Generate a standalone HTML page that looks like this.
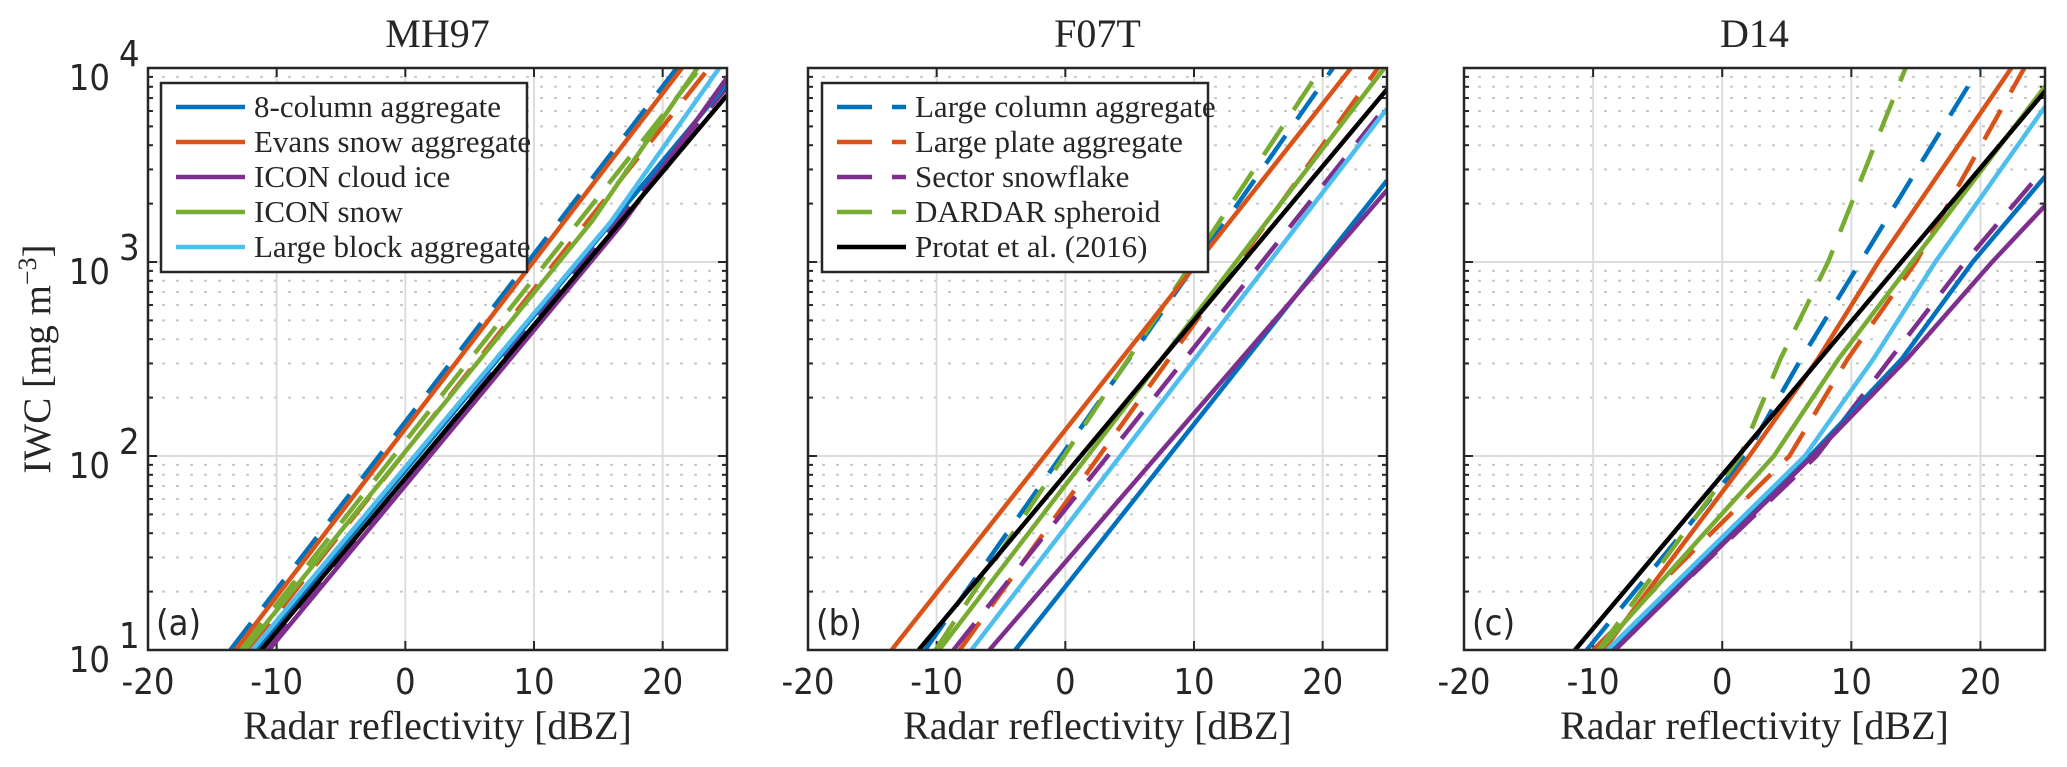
<!DOCTYPE html>
<html><head><meta charset="utf-8">
<style>
html,body{margin:0;padding:0;background:#fff;}
svg{display:block;}
.tick{font-family:"DejaVu Sans Condensed","DejaVu Sans","Liberation Sans",sans-serif;font-size:36px;fill:#262626;}
.serif{font-family:"Liberation Serif",serif;fill:#262626;}
</style></head>
<body>
<svg id="chart" width="2067" height="767" viewBox="0 0 2067 767" xmlns="http://www.w3.org/2000/svg">
<text class="serif" transform="translate(50,359) rotate(-90)" text-anchor="middle" font-size="39">IWC [mg m<tspan dy="-14" font-size="26">−3</tspan><tspan dy="14">]</tspan></text>
</svg>
<script>
// ---------- data ----------
const xTicks = [-20, -10, 0, 10, 20];
const xTickLabels = ["-20", "-10", "0", "10", "20"];
const yDecades = [1, 2, 3, 4];
const panelTitles = ["MH97", "F07T", "D14"];
const panelLetters = ["(a)", "(b)", "(c)"];

// Panel (a) MH97
const a_col8_dbz = [-11.6, 25];          const a_col8_iwc = [10, 8318];
const a_evans_dbz = [-13.2, 21.5];       const a_evans_iwc = [10, 10000];
const a_iconIce_dbz = [-10.6, 16.9, 25]; const a_iconIce_iwc = [10, 1585, 8913];
const a_iconSnow_dbz = [-12.5, 14.5, 22.7]; const a_iconSnow_iwc = [10, 1622, 10000];
const a_block_dbz = [-11.9, 16.0, 24.4]; const a_block_iwc = [10, 1622, 10000];
const a_column_dbz = [-13.6, 21.1];      const a_column_iwc = [10, 10000];
const a_plate_dbz = [-12.2, 23.6];       const a_plate_iwc = [10, 10000];
const a_sector_dbz = [-10.9, 25];        const a_sector_iwc = [10, 7943];
const a_dardar_dbz = [-12.8, 22.9];      const a_dardar_iwc = [10, 10000];
const a_protat_dbz = [-11.2, 25];        const a_protat_iwc = [10, 7244];

// Panel (b) F07T
const b_col8_dbz = [-3.9, 25];      const b_col8_iwc = [10, 2630];
const b_evans_dbz = [-13.5, 22.2];  const b_evans_iwc = [10, 10000];
const b_iconIce_dbz = [-5.9, 25];   const b_iconIce_iwc = [10, 2344];
const b_iconSnow_dbz = [-9.8, 24.8];const b_iconSnow_iwc = [10, 10000];
const b_block_dbz = [-7.3, 25];     const b_block_iwc = [10, 6166];
const b_column_dbz = [-10.9, 20.8]; const b_column_iwc = [10, 10000];
const b_plate_dbz = [-8.2, 24.3];   const b_plate_iwc = [10, 10000];
const b_sector_dbz = [-8.7, 25];    const b_sector_iwc = [10, 6457];
const b_dardar_dbz = [-10.1, 19.9]; const b_dardar_iwc = [10, 10000];
const b_protat_dbz = [-11.4, 25];   const b_protat_iwc = [10, 7762];

// Panel (c) D14  (IWC knots at 10, 100, 316, 1000, top)
const c_col8_dbz = [-8.7, 6.8, 13.9, 19.4, 25];    const c_col8_iwc = [10, 100, 316, 1000, 2754];
const c_evans_dbz = [-9.2, 2.1, 7.4, 12.1, 22.4];  const c_evans_iwc = [10, 100, 316, 1000, 10000];
const c_iconIce_dbz = [-8.3, 7.0, 14.3, 20.9, 25]; const c_iconIce_iwc = [10, 100, 316, 1000, 1950];
const c_iconSnow_dbz = [-9.5, 4.0, 9.0, 14.7, 25]; const c_iconSnow_iwc = [10, 100, 316, 1000, 8035];
const c_block_dbz = [-8.9, 6.4, 11.7, 16.5, 25];   const c_block_iwc = [10, 100, 316, 1000, 6310];
const c_column_dbz = [-10.5, 1.8, 6.1, 10.7, 19.9]; const c_column_iwc = [10, 100, 316, 1000, 10000];
const c_plate_dbz = [-10.0, 5.2, 9.7, 15.0, 23.4];  const c_plate_iwc = [10, 100, 316, 1000, 10000];
const c_sector_dbz = [-8.4, 7.3, 13.0, 18.8, 25];   const c_sector_iwc = [10, 100, 316, 1000, 3055];
const c_dardar_dbz = [-9.6, 1.4, 4.5, 8.2, 14.2];   const c_dardar_iwc = [10, 100, 316, 1000, 10000];
const c_protat_dbz = [-11.4, 25];                   const c_protat_iwc = [10, 7586];

const legendA = ["8-column aggregate", "Evans snow aggregate", "ICON cloud ice", "ICON snow", "Large block aggregate"];
const legendB = ["Large column aggregate", "Large plate aggregate", "Sector snowflake", "DARDAR spheroid", "Protat et al. (2016)"];

// ---------- drawing ----------
const NS = "http://www.w3.org/2000/svg";
const svg = document.getElementById("chart");
const C = {blue:"#0072BD", orange:"#D95319", purple:"#7E2F8E", green:"#77AC30", cyan:"#4DBEEE", black:"#000000"};
const panels = [
  {x0:148, x1:727, id:"a", series:[
    ["column-aggregate", a_column_dbz, a_column_iwc, C.blue, true],
    ["plate-aggregate", a_plate_dbz, a_plate_iwc, C.orange, true],
    ["sector-snowflake", a_sector_dbz, a_sector_iwc, C.purple, true],
    ["dardar-spheroid", a_dardar_dbz, a_dardar_iwc, C.green, true],
    ["8-column-aggregate", a_col8_dbz, a_col8_iwc, C.blue, false],
    ["evans-snow", a_evans_dbz, a_evans_iwc, C.orange, false],
    ["icon-snow", a_iconSnow_dbz, a_iconSnow_iwc, C.green, false],
    ["large-block", a_block_dbz, a_block_iwc, C.cyan, false],
    ["icon-cloud-ice", a_iconIce_dbz, a_iconIce_iwc, C.purple, false],
    ["protat-2016", a_protat_dbz, a_protat_iwc, C.black, false]]},
  {x0:808, x1:1387, id:"b", series:[
    ["column-aggregate", b_column_dbz, b_column_iwc, C.blue, true],
    ["plate-aggregate", b_plate_dbz, b_plate_iwc, C.orange, true],
    ["sector-snowflake", b_sector_dbz, b_sector_iwc, C.purple, true],
    ["dardar-spheroid", b_dardar_dbz, b_dardar_iwc, C.green, true],
    ["8-column-aggregate", b_col8_dbz, b_col8_iwc, C.blue, false],
    ["evans-snow", b_evans_dbz, b_evans_iwc, C.orange, false],
    ["icon-snow", b_iconSnow_dbz, b_iconSnow_iwc, C.green, false],
    ["large-block", b_block_dbz, b_block_iwc, C.cyan, false],
    ["icon-cloud-ice", b_iconIce_dbz, b_iconIce_iwc, C.purple, false],
    ["protat-2016", b_protat_dbz, b_protat_iwc, C.black, false]]},
  {x0:1464, x1:2045, id:"c", series:[
    ["column-aggregate", c_column_dbz, c_column_iwc, C.blue, true],
    ["plate-aggregate", c_plate_dbz, c_plate_iwc, C.orange, true],
    ["sector-snowflake", c_sector_dbz, c_sector_iwc, C.purple, true],
    ["dardar-spheroid", c_dardar_dbz, c_dardar_iwc, C.green, true],
    ["8-column-aggregate", c_col8_dbz, c_col8_iwc, C.blue, false],
    ["evans-snow", c_evans_dbz, c_evans_iwc, C.orange, false],
    ["icon-snow", c_iconSnow_dbz, c_iconSnow_iwc, C.green, false],
    ["large-block", c_block_dbz, c_block_iwc, C.cyan, false],
    ["icon-cloud-ice", c_iconIce_dbz, c_iconIce_iwc, C.purple, false],
    ["protat-2016", c_protat_dbz, c_protat_iwc, C.black, false]]}
];
const Y0 = 650, Y1 = 68;
const yScale = v => Y0 - (Math.log10(v) - 1) / 3 * (Y0 - Y1);

function mk(tag, attrs, parent) {
  const e = document.createElementNS(NS, tag);
  for (const k in attrs) e.setAttribute(k, attrs[k]);
  (parent || svg).appendChild(e);
  return e;
}

panels.forEach((p, pi) => {
  const xScale = d => p.x0 + (d + 20) / 45 * (p.x1 - p.x0);
  const g = mk("g", {});
  
  
  const cp = mk("clipPath", {id: "clip" + p.id}, g);
  mk("rect", {x: p.x0, y: Y1, width: p.x1 - p.x0, height: Y0 - Y1}, cp);
  for (let dec = 1; dec < 4; dec++) {
    for (let m = 2; m <= 9; m++) {
      const y = yScale(m * Math.pow(10, dec));
      const l = mk("line", {x1: p.x0, x2: p.x1, y1: y, y2: y, stroke: "#c8c8c8", "stroke-width": 2, "stroke-dasharray": "3 11"}, g);
      
      
      mk("line", {x1: p.x0, x2: p.x0 + 5, y1: y, y2: y, stroke: "#262626", "stroke-width": 2}, g);
      mk("line", {x1: p.x1, x2: p.x1 - 5, y1: y, y2: y, stroke: "#262626", "stroke-width": 2}, g);
    }
  }
  xTicks.forEach((t, i) => {
    const x = xScale(t);
    const l = mk("line", {x1: x, x2: x, y1: Y1, y2: Y0, stroke: "#dcdcdc", "stroke-width": 2}, g);
    
    
    mk("line", {x1: x, x2: x, y1: Y0, y2: Y0 - 9, stroke: "#262626", "stroke-width": 2}, g);
    mk("line", {x1: x, x2: x, y1: Y1, y2: Y1 + 9, stroke: "#262626", "stroke-width": 2}, g);
    const tx = mk("text", {x: x, y: 694, "text-anchor": "middle", class: "tick"}, g);
    tx.textContent = xTickLabels[i];
    
    
  });
  yDecades.forEach(d => {
    const y = yScale(Math.pow(10, d));
    const l = mk("line", {x1: p.x0, x2: p.x1, y1: y, y2: y, stroke: "#dcdcdc", "stroke-width": 2}, g);
    
    
    mk("line", {x1: p.x0, x2: p.x0 + 9, y1: y, y2: y, stroke: "#262626", "stroke-width": 2}, g);
    mk("line", {x1: p.x1, x2: p.x1 - 9, y1: y, y2: y, stroke: "#262626", "stroke-width": 2}, g);
    if (pi === 0) {
      const tx = mk("text", {x: 110, y: y + 22, "text-anchor": "end", class: "tick"}, g);
      tx.textContent = "10";
      
      
      const sp = mk("text", {x: 119, y: y - 2, class: "tick", "font-size": "27"}, g);
      sp.textContent = String(d);
      
      
    }
  });
  const sg = mk("g", {"clip-path": "url(#clip" + p.id + ")"}, g);
  p.series.forEach(s => {
    const [name, xs, ys, col, dashed] = s;
    const pts = xs.map((d, i) => xScale(d).toFixed(1) + "," + yScale(ys[i]).toFixed(1)).join(" ");
    const pl = mk("polyline", {points: pts, fill: "none", stroke: col, "stroke-width": 4.5, "stroke-linejoin": "round"}, sg);
    if (dashed) pl.setAttribute("stroke-dasharray", "34 20");
    
    
  });
  const box = mk("rect", {x: p.x0, y: Y1, width: p.x1 - p.x0, height: Y0 - Y1, fill: "none", stroke: "#262626", "stroke-width": 2.5}, g);
  
  
  const cx = (p.x0 + p.x1) / 2;
  const t = mk("text", {x: cx, y: 47, "text-anchor": "middle", class: "serif", "font-size": "40"}, g);
  t.textContent = panelTitles[pi];
  
  
  const xl = mk("text", {x: cx, y: 739, "text-anchor": "middle", class: "serif", "font-size": "40"}, g);
  xl.textContent = "Radar reflectivity [dBZ]";
  
  
  const lt = mk("text", {x: p.x0 + 8, y: 635, class: "tick", "font-size": "31"}, g);
  lt.textContent = panelLetters[pi];
  
  
  let entries = null, lx = 0, lw = 0;
  if (pi === 0) { entries = legendA.map((n, i) => [n, [C.blue, C.orange, C.purple, C.green, C.cyan][i], false]); lx = 161; lw = 366; }
  if (pi === 1) { entries = legendB.map((n, i) => [n, [C.blue, C.orange, C.purple, C.green, C.black][i], i < 4]); lx = 822; lw = 386; }
  if (entries) {
    const lg = mk("g", {}, g);
    
    
    mk("rect", {x: lx, y: 83, width: lw, height: 189, fill: "#fff", stroke: "#262626", "stroke-width": 2.5}, lg);
    entries.forEach((e, i) => {
      const y = 107 + i * 35;
      const eg = mk("g", {}, lg);
      
      
      const ln = mk("line", {x1: lx + 15, x2: lx + 84, y1: y, y2: y, stroke: e[1], "stroke-width": 4.5}, eg);
      if (e[2]) ln.setAttribute("stroke-dasharray", "35 20");
      const tx = mk("text", {x: lx + 93, y: y + 10, class: "serif", "font-size": "31"}, eg);
      tx.textContent = e[0];
    });
  }
});
</script>
</body></html>
